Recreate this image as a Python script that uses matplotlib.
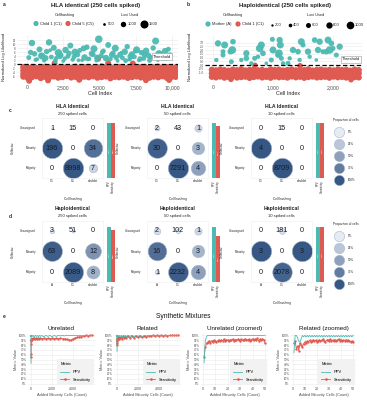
import numpy as np
import matplotlib
matplotlib.use('Agg')
import matplotlib.pyplot as plt
from matplotlib.colors import LinearSegmentedColormap
from matplotlib.lines import Line2D

plt.rcParams['font.family'] = ['Liberation Sans', 'DejaVu Sans']

# ======================= DATA =======================
# ---- panel a : HLA identical (250 cells spiked) ----
a_teal_x = [120, 340, 520, 700, 860, 1020, 1180, 1350, 1520, 1680,
            1850, 2010, 2170, 2330, 2500, 2660, 2820, 2990, 3150, 3310,
            3480, 3640, 3800, 3970, 4130, 4290, 4460, 4620, 4780, 4950,
            5110, 5270, 5440, 5600, 5760, 5930, 6090, 6250, 6420, 6580,
            6740, 6910, 7070, 7230, 7400, 7560, 7720, 7890, 8050, 8210,
            8380, 8540, 8700, 8870, 9030, 9190, 9360, 9520, 9680, 9850,
            250, 600, 950, 1280, 1600, 1950, 2250, 2600, 2900, 3250,
            3550, 3900, 4200, 4550, 4850, 5200, 5500, 5850, 6150, 6500,
            6800, 7150, 7450, 7800, 8100, 8450, 8750, 9100, 9400, 9750]
a_teal_y = [3.2, 10.5, 5.1, 2.4, 7.3, 4.0, 1.8, 6.2, 10.8, 3.5,
            8.1, 2.9, 5.6, 4.4, 1.5, 7.0, 3.8, 9.2, 2.2, 5.9,
            4.7, 6.8, 1.9, 3.3, 8.4, 2.6, 5.2, 7.6, 1.7, 12.4,
            4.1, 6.5, 3.0, 9.5, 2.5, 5.4, 7.9, 1.6, 4.6, 3.1,
            6.1, 8.7, 2.3, 4.9, 3.6, 7.1, 1.8, 5.7, 2.8, 6.6,
            4.2, 3.4, 8.0, 11.5, 2.0, 5.0, 3.9, 6.4, 2.7, 4.5,
            5.8, 2.1, 4.3, 3.0, 6.9, 1.6, 4.0, 2.7, 5.3, 3.6,
            1.9, 7.8, 2.4, 4.8, 3.1, 6.0, 2.2, 4.5, 3.3, 5.6,
            1.7, 3.8, 6.3, 2.5, 4.9, 1.8, 3.5, 5.2, 2.9, 7.4]
a_teal_loci = [900, 1200, 1000, 700, 1100, 1300, 800, 1000, 1200, 900,
               1100, 800, 1400, 1000, 700, 1200, 900, 1100, 800, 1300,
               1000, 900, 700, 1200, 1000, 800, 1100, 1300, 700, 1400,
               1000, 900, 1200, 1100, 800, 1000, 1300, 700, 1100, 900,
               1200, 1000, 800, 1100, 900, 1300, 700, 1000, 900, 1200,
               1100, 800, 1000, 1300, 700, 1100, 900, 1200, 800, 1000,
               1000, 800, 900, 1100, 700, 900, 1200, 800, 1000, 900,
               700, 1100, 800, 1000, 1200, 900, 800, 1100, 1000, 700,
               900, 1200, 800, 1000, 1100, 900, 800, 1300, 1000, 900]
a_red_x = [-250, 50, 350, 650, 950, 1250, 1550, 1850, 2150, 2450, 2750, 3050,
           3350, 3650, 3950, 4250, 4550, 4850, 5150, 5450, 5750, 6050, 6350, 6650,
           6950, 7250, 7550, 7850, 8150, 8450, 8750, 9050, 9350, 9650, 9950, 10250]
a_red_y1 = [-1.6, -1.9, -1.5, -2.0, -1.7, -1.4, -1.8, -1.6, -2.0, -1.5, -1.7, -1.9,
            -1.4, -1.8, -1.6, -1.5, -1.9, -1.7, -1.3, -1.8, -1.6, -2.0, -1.5, -1.7,
            -1.9, -1.4, -1.8, -1.6, -1.5, -1.9, -1.7, -1.4, -1.8, -1.6, -2.0, -1.7]
a_red_y2 = [-3.3, -3.5, -3.2, -3.6, -3.4, -3.3, -3.5, -3.2, -3.4, -3.6, -3.3, -3.4,
            -3.5, -3.2, -3.6, -3.4, -3.3, -3.5, -3.4, -3.2, -3.6, -3.3, -3.5, -3.4,
            -3.2, -3.6, -3.3, -3.5, -3.4, -3.2, -3.5, -3.3, -3.6, -3.4, -3.3, -3.5]
a_red_y3 = [-5.0, -4.8, -5.2, -4.9, -5.1, -5.0, -4.8, -5.2, -5.0, -4.9, -5.1, -4.8,
            -5.0, -5.2, -4.9, -5.1, -5.0, -4.8, -5.2, -4.9, -5.0, -5.1, -4.8, -5.0,
            -5.2, -4.9, -5.1, -5.0, -4.8, -5.1, -4.9, -5.2, -5.0, -4.8, -5.1, -5.0]
a_red_y4 = [-6.3, -6.9, -6.5, -6.1, -7.0, -6.4, -6.6, -6.2, -6.8, -6.5, -6.0, -6.7,
            -6.4, -6.9, -6.3, -6.6, -6.1, -6.8, -6.5, -6.2, -7.1, -6.4, -6.6, -6.3,
            -6.9, -6.5, -6.2, -6.7, -6.4, -6.8, -6.3, -6.6, -6.1, -6.9, -6.5, -6.4]
a_red_out_x = [4900, 1900, 7300, 150, 1450, 8200, 3600, 9800, 5600]
a_red_out_y = [2.6, 0.3, 0.2, -8.4, -8.2, -8.1, -7.9, -8.0, 0.4]
a_red_loci = 1100
a_xticks = [0, 2500, 5000, 7500, 10000]
a_xticklabels = ['0', '2,500', '5,000', '7,500', '10,000']
a_yticks = [-6, -4, -2, 0, 2, 4, 6, 8, 10, 12]
a_loci_legend = [500, 1000, 1500]
a_groups = ['Child 1 (C1)', 'Child 5 (C5)']

# ---- panel b : Haploidentical (250 cells spiked) ----
b_teal_x = [83, 194, 167, 333, 322, 56, 306, 556, 556, 694,
            806, 778, 833, 989, 1111, 1122, 1100, 1083, 1139, 1167,
            1250, 1333, 1417, 1472, 1500, 1583, 1611, 1694, 1750, 1833,
            1917, 1972, 1944, 2056, 2111, 1444, 889, 639, 289, 167,
            472, 972, 1278, 1722, 1889, 2000, 1778, 750, 1000]
b_teal_y = [2.89, 2.67, 1.78, 3.11, 2.0, 0.67, 0.44, 0.89, 1.56, 0.89,
            2.67, 2.22, 1.56, 3.42, 3.33, 2.67, 1.56, 1.33, 0.89, 0.22,
            0.22, 2.0, 1.78, 3.11, 2.67, 1.78, 1.11, 3.33, 2.0, 1.78,
            3.33, 2.89, 2.0, 1.33, 2.44, 0.67, 0.22, 0.22, 1.78, 1.33,
            0.67, 0.67, 0.89, 0.67, 1.78, 2.22, 3.11, 1.11, 2.0]
b_teal_loci = [800, 900, 600, 700, 1000, 500, 600, 700, 800, 600,
               900, 1000, 700, 600, 800, 900, 1000, 700, 600, 500,
               600, 800, 700, 900, 600, 800, 500, 700, 800, 600,
               900, 700, 1000, 600, 800, 500, 400, 500, 700, 600,
               500, 600, 500, 400, 700, 600, 800, 500, 900]
b_red_x = [-20, 50, 120, 190, 260, 330, 400, 470, 540, 610, 680, 750,
           820, 890, 960, 1030, 1100, 1170, 1240, 1310, 1380, 1450, 1520, 1590,
           1660, 1730, 1800, 1870, 1940, 2010, 2080, 2150, 2220, 2290, 2360, 2430]
b_red_y1 = [-0.62, -0.70, -0.58, -0.66, -0.74, -0.60, -0.68, -0.55, -0.71, -0.64, -0.59, -0.69,
            -0.63, -0.75, -0.57, -0.66, -0.61, -0.72, -0.65, -0.58, -0.70, -0.62, -0.67, -0.56,
            -0.73, -0.64, -0.60, -0.69, -0.63, -0.71, -0.58, -0.66, -0.62, -0.74, -0.60, -0.67]
b_red_y2 = [-1.12, -1.08, -1.16, -1.10, -1.14, -1.07, -1.13, -1.11, -1.17, -1.09, -1.12, -1.15,
            -1.08, -1.13, -1.10, -1.16, -1.11, -1.07, -1.14, -1.12, -1.09, -1.15, -1.10, -1.13,
            -1.08, -1.16, -1.11, -1.14, -1.09, -1.12, -1.15, -1.10, -1.13, -1.08, -1.14, -1.11]
b_red_y3 = [-1.58, -1.66, -1.55, -1.70, -1.60, -1.52, -1.68, -1.62, -1.57, -1.73, -1.61, -1.54,
            -1.67, -1.59, -1.71, -1.56, -1.64, -1.60, -1.69, -1.53, -1.65, -1.58, -1.72, -1.61,
            -1.55, -1.67, -1.62, -1.58, -1.70, -1.56, -1.64, -1.60, -1.68, -1.57, -1.63, -1.66]
b_red_out_x = [700, 1450, 2300, 300]
b_red_out_y = [-0.05, -0.10, -1.95, -1.90]
b_red_loci = 700
b_xticks = [0, 1000, 2000]
b_xticklabels = ['0', '1,000', '2,000']
b_yticks = [-1.0, -0.5, 0.0, 0.5, 1.0, 1.5, 2.0, 2.5, 3.0]
b_loci_legend = [200, 400, 600, 800, 1000]
b_groups = ['Mother (A)', 'Child 1 (C1)']

# ---- panels c / d : confusion matrices ----
row_names = ['Unassigned', 'Minority', 'Majority']
hla_cols = ['C1', 'C5', 'doublet']
haplo_cols = ['A', 'C1', 'doublet']
hla_250 = [[1, 15, 0], [196, 0, 34], [0, 8998, 7]]
hla_50 = [[2, 43, 1], [30, 0, 3], [0, 7291, 4]]
hla_10 = [[0, 15, 0], [4, 0, 0], [0, 8709, 0]]
haplo_250 = [[3, 51, 0], [63, 0, 12], [0, 2089, 8]]
haplo_50 = [[2, 102, 1], [16, 0, 3], [1, 2232, 4]]
haplo_10 = [[0, 181, 0], [3, 0, 3], [0, 2078, 0]]
spiked = ['250 spiked cells', '50 spiked cells', '10 spiked cells']
prop_levels = [0.0, 0.25, 0.5, 0.75, 1.0]
prop_labels = ['0%', '25%', '50%', '75%', '100%']

# ---- panel e : synthetic mixtures ----
unrel_x = [0, 1, 2, 3, 5, 10, 25, 50, 100, 150, 200, 300, 400, 500, 600, 700, 800, 900, 1000,
           1200, 1400, 1600, 1800, 2000, 2200, 2400, 2600, 2800, 3000, 3200, 3400, 3600, 3800,
           4000, 4200, 4400, 4600, 4800, 5000, 5200, 5400, 5600, 5800]
unrel_ppv = [0.42, 0.88, 1.0, 0.97, 1.0, 0.98, 1.0, 0.97, 1.0, 0.98,
             1.0, 0.97, 1.0, 0.98, 1.0, 0.97, 1.0, 0.98, 1.0, 0.97,
             1.0, 0.98, 1.0, 0.97, 1.0, 0.98, 1.0, 0.99, 1.0, 0.99,
             1.0, 1.0, 1.0, 1.0, 1.0, 1.0, 1.0, 1.0, 1.0, 1.0, 1.0, 1.0, 1.0]
unrel_sens = [0.55, 0.62, 0.83, 0.88, 0.90, 0.91, 0.92, 0.93, 0.93, 0.94,
              0.93, 0.94, 0.93, 0.94, 0.93, 0.94, 0.93, 0.94, 0.93, 0.94,
              0.93, 0.94, 0.93, 0.94, 0.93, 0.94, 0.93, 0.94, 0.93, 0.93,
              0.92, 0.91, 0.90, 0.93, 0.95, 0.96, 0.97, 0.97, 0.98, 1.0, 0.99, 1.0, 1.0]
rel_x = [0, 1, 2, 3, 5, 10, 25, 50, 100, 150, 200, 300, 400, 500, 600, 700, 800, 900, 1000,
         1200, 1400, 1600, 1800, 2000, 2200, 2400, 2600, 2800, 3000, 3200, 3400, 3600, 3800,
         4000, 4200, 4400, 4600, 4800, 5000, 5200, 5400, 5600, 5800]
rel_ppv = [0.67, 0.95, 1.0, 0.97, 1.0, 0.97, 1.0, 0.98, 1.0, 0.97,
           1.0, 0.98, 1.0, 0.97, 1.0, 0.98, 1.0, 0.97, 1.0, 0.98,
           1.0, 0.97, 1.0, 0.98, 1.0, 0.97, 1.0, 0.99, 1.0, 1.0,
           1.0, 1.0, 1.0, 1.0, 1.0, 1.0, 1.0, 1.0, 1.0, 1.0, 1.0, 1.0, 1.0]
rel_sens = [0.85, 0.80, 0.88, 0.90, 0.91, 0.93, 0.95, 0.92, 0.96, 0.93,
            0.97, 0.94, 0.97, 0.93, 0.98, 0.95, 0.97, 0.94, 0.98, 0.95,
            0.98, 0.95, 0.98, 0.96, 0.99, 0.96, 0.99, 0.97, 0.99, 0.99,
            1.0, 0.99, 1.0, 0.99, 1.0, 0.99, 1.0, 0.99, 1.0, 1.0, 1.0, 1.0, 1.0]
zoom_x = [1, 2, 3, 4, 5, 6, 7, 8, 9, 10, 11, 12, 13, 14, 15, 16, 17, 18, 19, 20,
          21, 22, 23, 24, 25, 26, 27, 28, 29, 30, 31, 32, 33, 34, 35, 36, 37, 38, 39, 40,
          41, 42, 43, 44, 45, 46, 47, 48, 49, 50]
zu_ppv = [0.43, 0.88, 0.98, 1.0, 1.0, 1.0, 1.0, 1.0, 1.0, 1.0,
          1.0, 1.0, 1.0, 1.0, 1.0, 1.0, 1.0, 1.0, 1.0, 1.0,
          1.0, 1.0, 1.0, 1.0, 1.0, 1.0, 1.0, 1.0, 1.0, 1.0,
          1.0, 1.0, 1.0, 1.0, 1.0, 1.0, 1.0, 1.0, 1.0, 1.0,
          1.0, 1.0, 1.0, 1.0, 1.0, 1.0, 1.0, 1.0, 1.0, 1.0]
zu_sens = [0.55, 0.75, 0.84, 0.86, 0.88, 0.85, 0.89, 0.87, 0.90, 0.88,
           0.86, 0.89, 0.91, 0.88, 0.90, 0.89, 0.92, 0.89, 0.91, 0.90,
           0.88, 0.91, 0.90, 0.92, 0.89, 0.91, 0.90, 0.92, 0.91, 0.89,
           0.92, 0.90, 0.91, 0.93, 0.90, 0.91, 0.92, 0.89, 0.91, 0.93,
           0.90, 0.92, 0.91, 0.94, 0.89, 0.92, 0.90, 0.93, 0.91, 0.84]
zr_ppv = [0.64, 1.0, 1.0, 0.95, 0.88, 0.86, 0.93, 1.0, 0.97, 1.0,
          0.97, 1.0, 0.97, 1.0, 0.97, 1.0, 0.97, 1.0, 0.97, 1.0,
          0.97, 1.0, 0.97, 1.0, 0.97, 1.0, 0.97, 1.0, 0.97, 1.0,
          0.97, 1.0, 0.97, 1.0, 0.97, 1.0, 0.97, 1.0, 0.97, 1.0,
          0.97, 1.0, 0.97, 1.0, 0.97, 1.0, 0.97, 1.0, 0.97, 1.0]
zr_sens = [0.84, 0.88, 0.72, 0.78, 0.68, 0.84, 0.80, 0.76, 0.83, 0.86,
           0.84, 0.88, 0.86, 0.90, 0.87, 0.89, 0.91, 0.88, 0.90, 0.87,
           0.89, 0.91, 0.88, 0.90, 0.92, 0.89, 0.87, 0.90, 0.91, 0.89,
           0.92, 0.88, 0.90, 0.89, 0.91, 0.88, 0.90, 0.92, 0.89, 0.91,
           0.88, 0.90, 0.89, 0.91, 0.88, 0.90, 0.89, 0.87, 0.88, 0.87]

# ======================= STYLE / LAYOUT =======================
W, H = 367, 400
fig = plt.figure(figsize=(W / 100, H / 100), dpi=100)
TEAL = '#4DBAB2'
RED = '#DF5A50'
GRID = '#ebebeb'
TXT = '#4d4d4d'
cmap = LinearSegmentedColormap.from_list('prop', ['#E7ECF4', '#365784'])


def ax_px(x0, y0, x1, y1, **kw):
    return fig.add_axes([x0 / W, 1 - y1 / H, (x1 - x0) / W, (y1 - y0) / H], **kw)


ov = ax_px(0, 0, W, H, zorder=20)
ov.set_xlim(0, W)
ov.set_ylim(H, 0)
ov.axis('off')
ov.patch.set_alpha(0)


def T(x, y, s, size=3, **kw):
    kw.setdefault('ha', 'center')
    kw.setdefault('va', 'center')
    kw.setdefault('color', '#222222')
    return ov.text(x, y, s, fontsize=size, **kw)


def size_a(l):
    return (1.2 + (np.asarray(l, float) - 300) / 1200 * 4.6) ** 2


def size_b(l):
    return (1.7 + (np.asarray(l, float) - 200) / 800 * 3.8) ** 2


def scatter_panel(box, xlim, ylim, xticks, xtl, yticks, ytl, tx, ty, tl,
                  rx, rrows, rl, ox, oy, sizef):
    ax = ax_px(*box)
    ax.set_xlim(*xlim)
    ax.set_ylim(*ylim)
    for yr in rrows:
        ax.scatter(rx, yr, s=sizef([rl] * len(rx)) * 1.15, c=RED, linewidths=0, zorder=2)
    ax.scatter(ox, oy, s=sizef([rl] * len(ox)), c=RED, linewidths=0, zorder=2)
    ax.scatter(tx, ty, s=sizef(tl), c=TEAL, linewidths=0, alpha=0.95, zorder=3)
    ax.axhline(0, color='black', lw=0.9, ls=(0, (3.5, 2)), zorder=4)
    ax.set_xticks(xticks)
    ax.set_xticklabels(xtl, fontsize=3.6, color=TXT)
    ax.set_yticks(yticks)
    ax.set_yticklabels(ytl, fontsize=2.2, color=TXT)
    ax.tick_params(length=0, pad=0.8)
    for s in ax.spines.values():
        s.set_visible(False)
    ax.grid(True, color=GRID, lw=0.4)
    ax.set_axisbelow(True)
    return ax


# ---------------- panel a ----------------
scatter_panel((17, 35, 178, 84), (-690, 10414), (-10, 14.5), a_xticks, a_xticklabels,
              a_yticks, [str(v) for v in a_yticks],
              a_teal_x, a_teal_y, a_teal_loci, a_red_x,
              [a_red_y1, a_red_y2, a_red_y3, a_red_y4], a_red_loci,
              a_red_out_x, a_red_out_y, size_a)
T(4, 5, 'a', 3.5, fontweight='bold')
T(96, 5.5, 'HLA identical (250 cells spiked)', 4.3, fontweight='bold')
T(65, 15, 'Cellhashing', 2.8)
T(130, 15, 'Loci Used', 2.8)
ov.scatter([36, 68], [23.5, 23.5], s=14, c=[TEAL, RED], linewidths=0)
T(40, 23.5, a_groups[0], 3.0, ha='left')
T(72, 23.5, a_groups[1], 3.0, ha='left')
for lx, lv in zip([104, 123, 144], a_loci_legend):
    ov.scatter([lx], [24], s=size_a(lv), c='black', linewidths=0)
    T(lx + 3.5 + (lv / 1500) * 1.5, 24, str(lv), 3.0, ha='left')
T(4, 57, 'Normalized Log Likelihood', 3.0, rotation=90)
T(100, 93.5, 'Cell Index', 3.9)
T(162, 56.5, 'Threshold', 3.0,
  bbox=dict(boxstyle='square,pad=0.25', fc='white', ec='#999999', lw=0.4))

# ---------------- panel b ----------------
scatter_panel((205, 35, 362, 84), (-133, 2483), (-2.53, 4.0), b_xticks, b_xticklabels,
              b_yticks, [f'{v:.1f}' for v in b_yticks],
              b_teal_x, b_teal_y, b_teal_loci, b_red_x,
              [b_red_y1, b_red_y2, b_red_y3], b_red_loci,
              b_red_out_x, b_red_out_y, size_b)
T(188, 5, 'b', 3.5, fontweight='bold')
T(285, 5.5, 'Haploidentical (250 cells spiked)', 4.3, fontweight='bold')
T(233, 15, 'Cellhashing', 2.8)
T(316, 15, 'Loci Used', 2.8)
ov.scatter([208, 238], [24, 24], s=14, c=[TEAL, RED], linewidths=0)
T(212, 24, b_groups[0], 3.0, ha='left')
T(242, 24, b_groups[1], 3.0, ha='left')
for lx, lv in zip([272, 290, 308, 329, 350], b_loci_legend):
    ov.scatter([lx], [25], s=size_b(lv), c='black', linewidths=0)
    T(lx + 2.5 + (lv / 1000) * 2, 25, str(lv), 3.0, ha='left')
T(190, 57, 'Normalized Log Likelihood', 3.0, rotation=90)
T(288, 93.5, 'Cell Index', 3.9)
T(351, 59.5, 'Threshold', 3.0,
  bbox=dict(boxstyle='square,pad=0.25', fc='white', ec='#999999', lw=0.4))

# ---------------- panels c / d ----------------
SMAX = 215


def matrix_panel(mat, cols, cx0, sp, ry0, rsp, bar_top, bar_bot, title, sub, title_y):
    m = np.array(mat, float)
    csum = m.sum(axis=0)
    csum[csum == 0] = 1
    prop = m / csum
    ax = ax_px(cx0 - sp / 2, ry0 - rsp / 2, cx0 + 2.5 * sp, ry0 + 2.5 * rsp)
    ax.set_xlim(-0.5, 2.5)
    ax.set_ylim(2.5, -0.5)
    ax.set_xticks([])
    ax.set_yticks([])
    for s in ax.spines.values():
        s.set_color('#eeeeee')
        s.set_linewidth(0.4)
    for i in range(3):
        for j in range(3):
            p = prop[i, j]
            if m[i, j] > 0:
                ax.scatter([j], [i], s=p * SMAX, color=cmap(p), edgecolors='#a7b6cb',
                           linewidths=0.4, zorder=2)
            ax.text(j, i, f'{int(m[i, j])}', ha='center', va='center', fontsize=5.2,
                    color='#151c26', zorder=3)
    for i, rn in enumerate(row_names):
        T(cx0 - 16, ry0 + i * rsp, rn, 2.1, ha='right')
    for j, cn in enumerate(cols):
        T(cx0 + j * sp, ry0 + 2 * rsp + 13, cn, 2.2)
    T(cx0 + sp, ry0 + 2 * rsp + 31, 'Cell hashing', 2.3)
    T(cx0 - 39, ry0 + rsp, 'Cellector', 2.3, rotation=90)
    T(cx0 + sp, title_y, title, 3.7, fontweight='bold')
    T(cx0 + sp, title_y + 7.5, sub, 3.0)
    # PPV / Sensitivity bars computed from the matrix
    ppv = m[1, 0] / (m[1, 0] + m[1, 1])
    sens = m[1, 0] / m[:, 0].sum()
    bx = cx0 + 2 * sp + 14
    axb = ax_px(bx, bar_top, bx + 8, bar_bot)
    axb.bar([0, 1], [ppv, sens], width=1.0, color=[TEAL, RED])
    axb.set_xlim(-0.5, 1.5)
    axb.set_ylim(0, 1.0)
    axb.axis('off')
    for k, v in enumerate([ppv, sens]):
        axb.text(k, v / 2, f'{v:.2f}', rotation=90, ha='center', va='center',
                 fontsize=1.7, color='white')
    T(bx + 2, bar_bot + 2, 'PPV', 2.0, rotation=90, va='top')
    T(bx + 6, bar_bot + 2, 'Sensitivity', 2.0, rotation=90, va='top')


panel_x = [52, 157, 261]
for k, mat in enumerate([hla_250, hla_50, hla_10]):
    matrix_panel(mat, hla_cols, panel_x[k], 20.5, 128, 20, 123, 178,
                 'HLA Identical', spiked[k], 106)
for k, mat in enumerate([haplo_250, haplo_50, haplo_10]):
    matrix_panel(mat, haplo_cols, panel_x[k], 20.5, 231, 20.5, 227, 282,
                 'Haploidentical', spiked[k], 208.5)
T(10, 110, 'c', 3.5, fontweight='bold')
T(10, 216, 'd', 3.5, fontweight='bold')

for ly0 in [120, 224]:
    T(346, ly0, 'Proportion of cells', 2.3)
    for i, (pv, pl) in enumerate(zip(prop_levels, prop_labels)):
        yy = ly0 + 12 + i * 12
        ov.scatter([339], [yy], s=55, color=cmap(pv), edgecolors='#a7b6cb', linewidths=0.4)
        T(348, yy, pl, 2.2, ha='left')

# ---------------- panel e ----------------
T(4, 316, 'e', 3.5, fontweight='bold')
T(183, 316, 'Synthetic Mixtures', 4.8, color='#111111')


def metric_panel(box, x, ppv, sens, xlim, xticks, title):
    ax = ax_px(*box)
    ax.plot(x, ppv, color=TEAL, lw=0.6, zorder=3)
    ax.plot(x, sens, color=RED, lw=0.6, marker='o', ms=0.7, zorder=2)
    ax.set_xlim(*xlim)
    ax.set_ylim(-0.05, 1.05)
    yt = [i / 10 for i in range(11)]
    ax.set_yticks(yt)
    ax.set_yticklabels([f'{int(round(v * 100))}%' for v in yt], fontsize=2.2, color=TXT)
    ax.set_xticks(xticks)
    ax.set_xticklabels([str(v) for v in xticks], fontsize=2.6, color=TXT)
    ax.tick_params(length=0, pad=1)
    for s in ax.spines.values():
        s.set_visible(False)
    ax.grid(True, color=GRID, lw=0.4)
    ax.set_axisbelow(True)
    ax.set_title(title, fontsize=4.5, pad=2.5, color='#111111')
    ax.set_xlabel('Added Minority Cells (Count)', fontsize=2.8, labelpad=1, color=TXT)
    ax.set_ylabel('Metric Value', fontsize=2.8, labelpad=1, color=TXT)
    handles = [Line2D([], [], color=TEAL, lw=0.6),
               Line2D([], [], color=RED, lw=0.6, marker='o', ms=0.9)]
    leg = ax.legend(handles, ['PPV', 'Sensitivity'], title='Metric', loc='lower right',
                    fontsize=2.9, title_fontsize=2.9, frameon=True, facecolor='#f2f2f2',
                    edgecolor='none', framealpha=1, labelspacing=0.9, handlelength=2.2,
                    borderpad=0.8, borderaxespad=0.3, fancybox=False)
    leg._legend_box.align = 'left'
    return ax


metric_panel((28, 333, 95, 386), unrel_x, unrel_ppv, unrel_sens, (-290, 6090),
             [0, 2000, 4000], 'Unrelated')
metric_panel((114, 333, 181, 386), rel_x, rel_ppv, rel_sens, (-290, 6090),
             [0, 2000, 4000], 'Related')
metric_panel((201, 333, 268, 386), zoom_x, zu_ppv, zu_sens, (-1.45, 52.45),
             [0, 10, 20, 30, 40, 50], 'Unrelated (zoomed)')
metric_panel((291, 333, 356, 386), zoom_x, zr_ppv, zr_sens, (-1.45, 52.45),
             [0, 10, 20, 30, 40, 50], 'Related (zoomed)')

fig.savefig('out.png', dpi=100, facecolor='white')
